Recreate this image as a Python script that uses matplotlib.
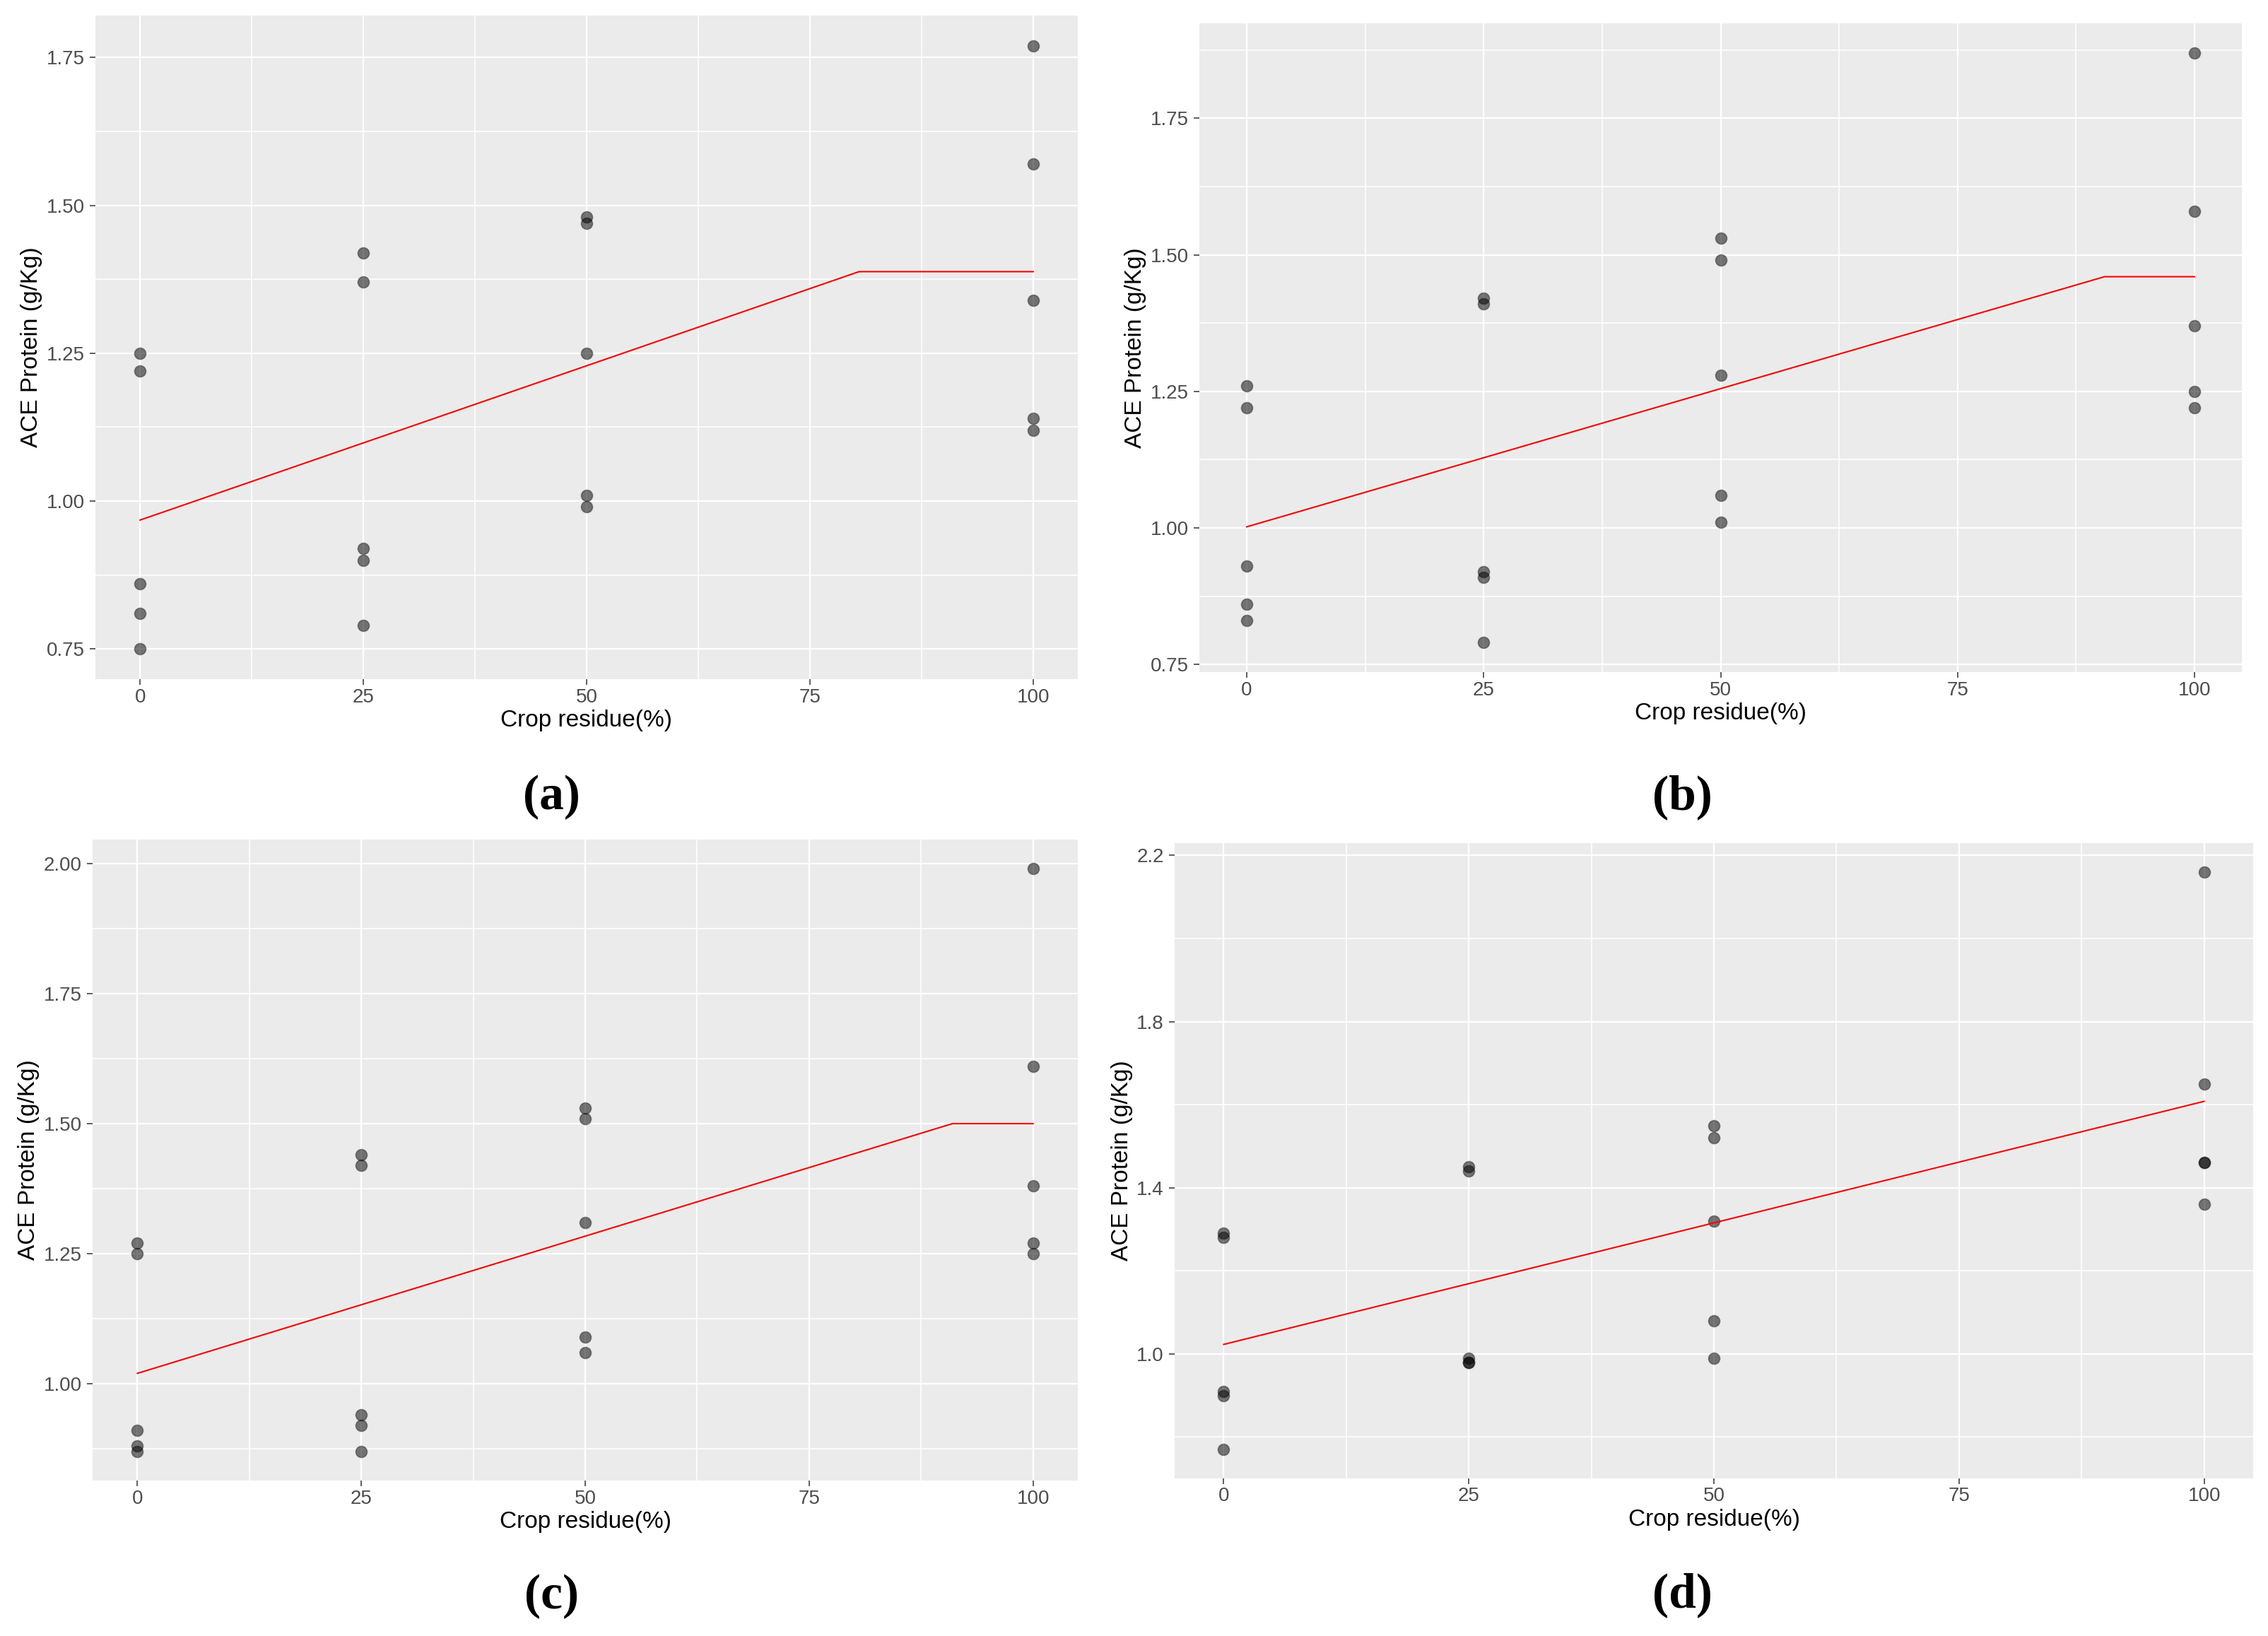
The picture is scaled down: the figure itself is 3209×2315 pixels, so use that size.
import numpy as np
import matplotlib
matplotlib.use("Agg")
import matplotlib.pyplot as plt
from matplotlib.ticker import FixedLocator, FormatStrFormatter

# Data
residue = [0, 0, 0, 0, 0, 25, 25, 25, 25, 25, 50, 50, 50, 50, 50, 100, 100, 100, 100, 100]

a_protein = [1.25, 1.22, 0.86, 0.81, 0.75, 1.42, 1.37, 0.92, 0.90, 0.79,
             1.48, 1.47, 1.25, 1.01, 0.99, 1.77, 1.57, 1.34, 1.14, 1.12]
b_protein = [1.26, 1.22, 0.93, 0.86, 0.83, 1.42, 1.41, 0.92, 0.91, 0.79,
             1.53, 1.49, 1.28, 1.06, 1.01, 1.87, 1.58, 1.37, 1.25, 1.22]
c_protein = [1.27, 1.25, 0.91, 0.88, 0.87, 1.44, 1.42, 0.94, 0.92, 0.87,
             1.53, 1.51, 1.31, 1.09, 1.06, 1.99, 1.61, 1.38, 1.27, 1.25]
d_protein = [1.29, 1.28, 0.91, 0.90, 0.77, 1.45, 1.44, 0.99, 0.98, 0.98,
             1.55, 1.52, 1.32, 1.08, 0.99, 2.16, 1.65, 1.46, 1.46, 1.36]

# fitted (linear-plateau) lines, breakpoints
a_fit_x = [0, 80.5, 100]
a_fit_y = [0.968, 1.388, 1.388]
b_fit_x = [0, 90.5, 100]
b_fit_y = [1.002, 1.460, 1.460]
c_fit_x = [0, 91, 100]
c_fit_y = [1.020, 1.500, 1.500]
d_fit_x = [0, 100]
d_fit_y = [1.023, 1.608]

x_ticks = [0, 25, 50, 75, 100]
x_minor = [12.5, 37.5, 62.5, 87.5]
a_yticks = [0.75, 1.00, 1.25, 1.50, 1.75]
b_yticks = [0.75, 1.00, 1.25, 1.50, 1.75]
c_yticks = [1.00, 1.25, 1.50, 1.75, 2.00]
d_yticks = [1.0, 1.4, 1.8, 2.2]

panel_tags = ["(a)", "(b)", "(c)", "(d)"]

W, H = 3209, 2315
fig = plt.figure(figsize=(W / 100, H / 100), dpi=100)

sans = ["Liberation Sans", "DejaVu Sans"]

# pixel boxes: left, top, right, bottom
boxes = [(135, 22, 1525, 961), (1697, 33, 3172, 951),
         (131, 1188, 1525, 2095), (1662, 1193, 3188, 2092)]
tag_pos = [(780, 1128), (2380, 1128), (780, 2259), (2380, 2257)]

panels = [
    (a_protein, a_fit_x, a_fit_y, a_yticks, "%.2f"),
    (b_protein, b_fit_x, b_fit_y, b_yticks, "%.2f"),
    (c_protein, c_fit_x, c_fit_y, c_yticks, "%.2f"),
    (d_protein, d_fit_x, d_fit_y, d_yticks, "%.1f"),
]

for i, (yvals, fx, fy, yt, fmt) in enumerate(panels):
    l, t, r, b = boxes[i]
    ax = fig.add_axes([l / W, 1 - b / H, (r - l) / W, (b - t) / H])
    ax.set_facecolor("#EBEBEB")
    for s in ax.spines.values():
        s.set_visible(False)

    ax.scatter(residue, yvals, s=135, facecolor=(0, 0, 0, 0.52),
               edgecolor=(0, 0, 0, 0.35), linewidth=1.2, zorder=3)
    ax.plot(fx, fy, color="red", lw=1.5, zorder=4)

    lo, hi = min(yvals), max(yvals)
    pad = (hi - lo) * 0.05
    ax.set_ylim(lo - pad, hi + pad)
    ax.set_xlim(-5, 105)

    ax.xaxis.set_major_locator(FixedLocator(x_ticks))
    ax.xaxis.set_minor_locator(FixedLocator(x_minor))
    ax.yaxis.set_major_locator(FixedLocator(yt))
    step = yt[1] - yt[0]
    ax.yaxis.set_minor_locator(FixedLocator([v - step / 2 for v in yt] + [yt[-1] + step / 2]))
    ax.yaxis.set_major_formatter(FormatStrFormatter(fmt))

    ax.grid(which="major", color="white", lw=1.6)
    ax.grid(which="minor", color="white", lw=1.2)
    ax.set_axisbelow(True)

    ax.tick_params(which="major", length=6, width=1.1, color="#333333",
                   labelcolor="#4D4D4D", labelsize=20)
    ax.tick_params(axis="x", which="major", pad=3)
    ax.tick_params(axis="y", which="major", pad=5)
    ax.tick_params(which="minor", length=0)
    for lab in ax.get_xticklabels() + ax.get_yticklabels():
        lab.set_family(sans)

    ax.set_xlabel("Crop residue(%)", fontsize=24, family=sans, labelpad=3)
    ax.set_ylabel("ACE Protein (g/Kg)", fontsize=24, family=sans, labelpad=4)

    tx, ty = tag_pos[i]
    fig.text(tx / W, 1 - ty / H, panel_tags[i], ha="center", va="center",
             fontsize=50, fontweight="bold", family=["Liberation Serif", "DejaVu Serif"])

fig.savefig("out.png", dpi=100)
